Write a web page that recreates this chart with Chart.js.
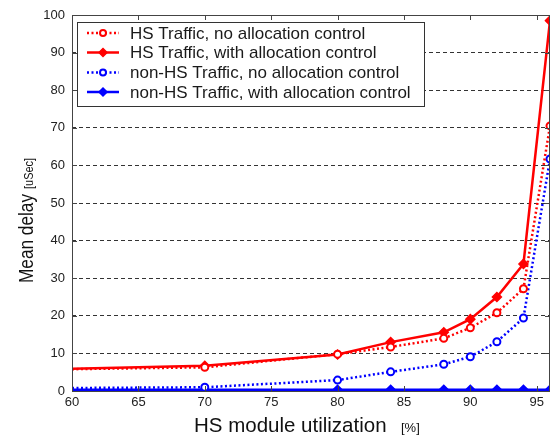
<!DOCTYPE html>
<html>
<head>
<meta charset="utf-8">
<script src="https://cdn.jsdelivr.net/npm/chart.js@4.4.0/dist/chart.umd.min.js"></script>
<style>
  html, body { margin: 0; padding: 0; background: #fff; }
  #wrap { width: 557px; height: 438px; position: relative; }
</style>
</head>
<body>
<div id="wrap"><canvas id="delayChart"></canvas></div>
<script>
const utilization = [60, 70, 80, 84, 88, 90, 92, 94, 96]
const hsNoCtrl = [5.8, 6.3, 9.8, 11.7, 14.0, 16.8, 20.8, 27.2, 70.5]
const hsWithCtrl = [5.9, 6.7, 9.7, 13.0, 15.6, 19.1, 25.0, 33.8, 98.5]
const nonHsNoCtrl = [0.8, 1.0, 2.9, 5.1, 7.1, 9.1, 13.1, 19.4, 61.7]
const nonHsWithCtrl = [0.3, 0.3, 0.3, 0.3, 0.3, 0.3, 0.3, 0.3, 0.3]
const seriesNames = [
    'HS Traffic, no allocation control',
    'HS Traffic, with allocation control',
    'non-HS Traffic, no allocation control',
    'non-HS Traffic, with allocation control'
]
const yTicks = [0, 10, 20, 30, 40, 50, 60, 70, 80, 90, 100]
const xTicks = [60, 65, 70, 75, 80, 85, 90, 95]

const pts = arr => arr.map((v, i) => ({ x: utilization[i], y: v }))
// first point sits on the axis edge, no marker drawn there
const radii = r => utilization.map((u, i) => i === 0 ? 0 : r)

const RED = '#ff0000'
const BLUE = '#0000ff'

function makeSet(label, data, color, dotted, solidMarker) {
    return {
        label: label,
        data: pts(data),
        borderColor: color,
        backgroundColor: color,
        borderWidth: 2.5,
        borderDash: dotted ? [2, 2.5] : [],
        pointStyle: solidMarker ? 'rectRot' : 'circle',
        pointRadius: radii(solidMarker ? 4.5 : 3.5),
        pointBorderWidth: solidMarker ? 1.5 : 2,
        pointBackgroundColor: solidMarker ? color : '#ffffff',
        pointBorderColor: color,
        tension: 0
    }
}

const frame = {
    id: 'frame',
    afterDraw(chart) {
        const c = chart.ctx
        const a = chart.chartArea
        const xs = chart.scales.x, ys = chart.scales.y
        c.save()
        // box
        c.strokeStyle = '#444'
        c.lineWidth = 1
        c.setLineDash([])
        c.strokeRect(a.left + 0.5, a.top + 0.5, a.right - a.left - 1, a.bottom - a.top)
        // inward ticks
        c.beginPath()
        xTicks.forEach(t => {
            const px = Math.round(xs.getPixelForValue(t)) + 0.5
            c.moveTo(px, a.bottom); c.lineTo(px, a.bottom - 5)
            c.moveTo(px, a.top); c.lineTo(px, a.top + 5)
        })
        yTicks.forEach(t => {
            const py = Math.round(ys.getPixelForValue(t)) + 0.5
            c.moveTo(a.left, py); c.lineTo(a.left + 5, py)
            c.moveTo(a.right, py); c.lineTo(a.right - 5, py)
        })
        c.stroke()

        // legend
        const lx = 77, ly = 22, lw = 347, lh = 84
        c.fillStyle = '#fff'
        c.fillRect(lx, ly, lw, lh)
        c.strokeStyle = '#333'
        c.strokeRect(lx + 0.5, ly + 0.5, lw, lh)
        const rowsY = [33, 52.5, 72.5, 92]
        chart.data.datasets.forEach((ds, i) => {
            const y = rowsY[i]
            c.strokeStyle = ds.borderColor
            c.lineWidth = 2.5
            c.setLineDash(ds.borderDash)
            c.beginPath(); c.moveTo(87, y); c.lineTo(119, y); c.stroke()
            c.setLineDash([])
            c.lineWidth = ds.pointBorderWidth
            c.fillStyle = ds.pointBackgroundColor
            c.strokeStyle = ds.pointBorderColor
            if (ds.pointStyle === 'rectRot') {
                c.beginPath()
                c.moveTo(103, y - 4); c.lineTo(107, y); c.lineTo(103, y + 4); c.lineTo(99, y)
                c.closePath(); c.fill(); c.stroke()
            } else {
                c.beginPath(); c.arc(103, y, 3, 0, Math.PI * 2); c.fill(); c.stroke()
            }
            c.fillStyle = '#1a1a1a'
            c.font = '17px "Liberation Sans", Arial, sans-serif'
            c.textBaseline = 'middle'
            c.textAlign = 'left'
            c.fillText(ds.label, 130, y + 1)
        })

        // axis titles with mixed sizes
        c.fillStyle = '#111'
        c.textBaseline = 'alphabetic'
        c.font = '20.5px "Liberation Sans", Arial, sans-serif'
        c.textAlign = 'left'
        c.fillText('HS module utilization', 194, 432)
        c.font = '13px "Liberation Sans", Arial, sans-serif'
        c.fillText('[%]', 401, 432)

        // y title is a little compressed along its length, as in the reference
        c.translate(33, 283)
        c.rotate(-Math.PI / 2)
        c.scale(0.84, 1)
        c.font = '20.5px "Liberation Sans", Arial, sans-serif'
        c.fillText('Mean delay', 0, 0)
        const w = c.measureText('Mean delay').width
        c.font = '13px "Liberation Sans", Arial, sans-serif'
        c.fillText('[uSec]', w + 6, 0)
        c.restore()
    }
}

const ctx = document.getElementById('delayChart')
new Chart(ctx, {
    type: 'line',
    data: {
        datasets: [
            makeSet(seriesNames[0], hsNoCtrl, RED, true, false),
            makeSet(seriesNames[1], hsWithCtrl, RED, false, true),
            makeSet(seriesNames[2], nonHsNoCtrl, BLUE, true, false),
            makeSet(seriesNames[3], nonHsWithCtrl, BLUE, false, true)
        ]
    },
    options: {
        responsive: true,
        maintainAspectRatio: false,
        animation: false,
        layout: { padding: { top: 15, right: 7, left: 0, bottom: 0 } },
        scales: {
            x: {
                type: 'linear',
                min: 60,
                max: 96,
                afterBuildTicks: s => { s.ticks = xTicks.map(v => ({ value: v })) },
                afterFit: s => { s.height = 47 },
                grid: { display: false, drawTicks: false },
                border: { display: false },
                ticks: {
                    padding: 4,
                    color: '#222',
                    font: { family: '"Liberation Sans", Arial, sans-serif', size: 13 }
                }
            },
            y: {
                min: 0,
                max: 100,
                afterBuildTicks: s => { s.ticks = yTicks.map(v => ({ value: v })) },
                afterFit: s => { s.width = 72 },
                grid: { color: '#333', drawTicks: false },
                border: { display: false, dash: [4, 3] },
                ticks: {
                    padding: 7,
                    color: '#222',
                    font: { family: '"Liberation Sans", Arial, sans-serif', size: 13 }
                }
            }
        },
        plugins: {
            legend: { display: false },
            tooltip: { enabled: false }
        }
    },
    plugins: [frame]
})
</script>
</body>
</html>
